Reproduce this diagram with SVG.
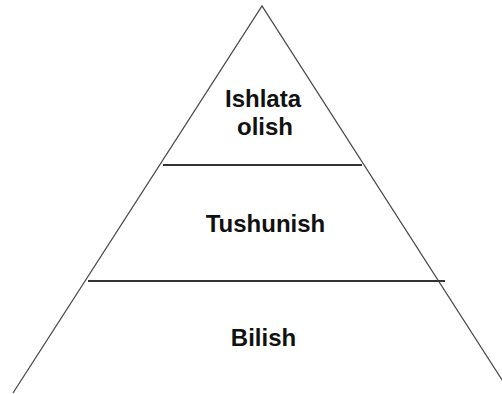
<svg xmlns="http://www.w3.org/2000/svg" width="502" height="394" viewBox="0 0 502 394">
<style>
.side{stroke:#4a4a4a;stroke-width:1.3;fill:none}
.div{stroke:#333;stroke-width:2.2;fill:none}
.lbl{font-family:"Liberation Sans",Arial,sans-serif;font-weight:bold;font-size:24px;fill:#111;text-anchor:middle}
</style>
<rect width="502" height="394" fill="#fff"/>
<g id="connectors">
<polyline class="side" points="13,393 262,6 504,383"/>
<line class="div" x1="163" y1="165" x2="362" y2="165"/>
<line class="div" x1="88" y1="281" x2="445" y2="281"/>
</g>
<g id="top"><text class="lbl" x="263" y="107">Ishlata</text><text class="lbl" x="265" y="135">olish</text></g>
<g id="middle"><text class="lbl" x="265.5" y="232">Tushunish</text></g>
<g id="bottom"><text class="lbl" x="263.5" y="346">Bilish</text></g>
</svg>
